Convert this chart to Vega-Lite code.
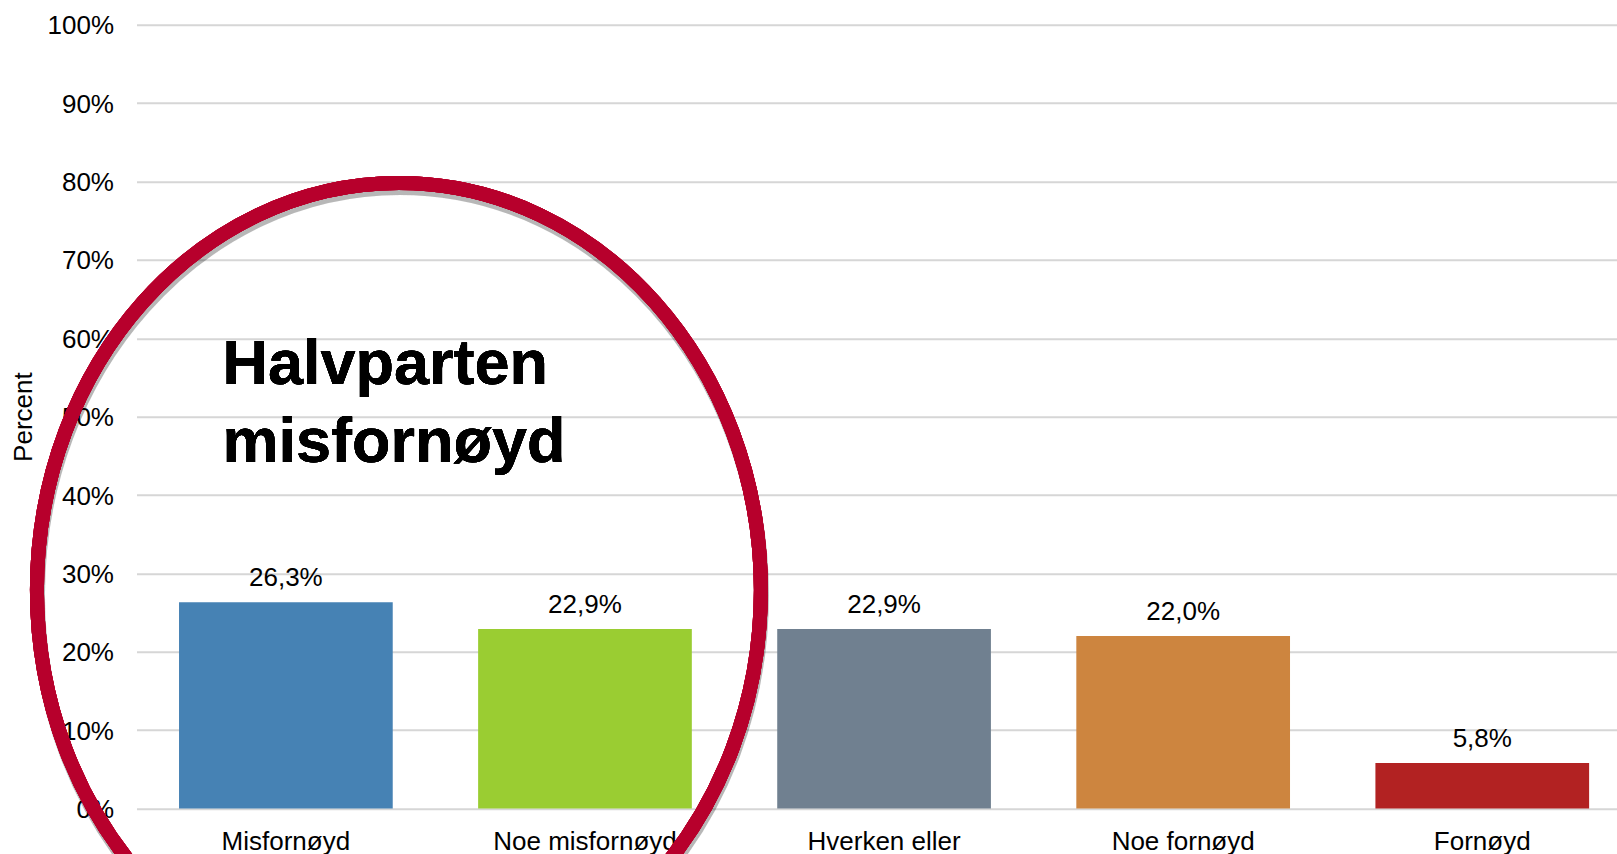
{
  "$schema": "https://vega.github.io/schema/vega-lite/v6.json",
  "width": 1480.5,
  "height": 783.75,
  "autosize": {"type": "none"},
  "padding": {"left": 136.5, "top": 24.75, "right": 0, "bottom": 45.5},
  "background": "white",
  "config": {
    "view": {"stroke": null},
    "font": "Liberation Sans",
    "locale": {"number": {"decimal": ",", "thousands": " ", "grouping": [3], "currency": ["", " kr"]}},
    "axis": {"labelFont": "Liberation Sans", "titleFont": "Liberation Sans", "labelColor": "#000000", "titleColor": "#000000"}
  },
  "data": {
    "values": [
      {"kategori": "Misfornøyd", "andel": 0.263},
      {"kategori": "Noe misfornøyd", "andel": 0.229},
      {"kategori": "Hverken eller", "andel": 0.229},
      {"kategori": "Noe fornøyd", "andel": 0.220},
      {"kategori": "Fornøyd", "andel": 0.058}
    ]
  },
  "resolve": {"scale": {"x": "independent"}, "axis": {"x": "independent"}},
  "layer": [
    {
      "encoding": {
        "x": {
          "field": "kategori",
          "type": "nominal",
          "sort": null,
          "scale": {"paddingInner": 0.2855, "paddingOuter": 0.1177, "align": 0.604, "round": false},
          "axis": {
            "title": null,
            "domain": false,
            "ticks": false,
            "tickSize": 0,
            "labelAngle": 0,
            "labelFontSize": 26,
            "labelPadding": 20,
            "labelLimit": 500,
            "labelOverlap": false,
            "grid": false
          }
        },
        "y": {
          "field": "andel",
          "type": "quantitative",
          "scale": {"domain": [0, 1], "nice": false},
          "axis": {
            "title": "Percent",
            "titleFontSize": 26,
            "titleFontWeight": "normal",
            "titlePadding": 11,
            "format": ".0%",
            "values": [0, 0.1, 0.2, 0.3, 0.4, 0.5, 0.6, 0.7, 0.8, 0.9, 1.0],
            "domain": false,
            "ticks": false,
            "tickSize": 0,
            "labelFontSize": 26,
            "labelPadding": 23,
            "labelOffset": 1,
            "grid": true,
            "gridColor": "#D6D6D6",
            "gridWidth": 2
          }
        }
      },
      "layer": [
        {
          "mark": {"type": "bar"},
          "encoding": {
            "color": {
              "field": "kategori",
              "type": "nominal",
              "scale": {
                "domain": ["Misfornøyd", "Noe misfornøyd", "Hverken eller", "Noe fornøyd", "Fornøyd"],
                "range": ["#4682B4", "#9ACD32", "#708090", "#CD853F", "#B22222"]
              },
              "legend": null
            }
          }
        },
        {
          "mark": {"type": "text", "baseline": "alphabetic", "dy": -16, "fontSize": 26, "color": "#000000", "font": "Liberation Sans"},
          "encoding": {
            "text": {"field": "andel", "type": "quantitative", "format": ".1%"}
          }
        }
      ]
    },
    {
      "layer": [
        {
          "mark": {
            "type": "point",
            "shape": "M 0.8894 0 C 0.8894 0.5523 0.4912 1 0 1 C -0.4912 1 -0.8894 0.5523 -0.8894 0 C -0.8894 -0.5523 -0.4912 -1 0 -1 C 0.4912 -1 0.8894 -0.5523 0.8894 0 Z",
            "size": 662596,
            "filled": false,
            "stroke": "#000000",
            "strokeWidth": 14,
            "opacity": 0.06,
            "xOffset": 1,
            "yOffset": 5
          },
          "encoding": {
            "x": {"datum": 0.378, "type": "quantitative", "scale": {"domain": [-0.4993, 4.4505], "nice": false, "zero": false}, "axis": null},
            "y": {"datum": 0.2788, "type": "quantitative"}
          }
        },
        {
          "mark": {
            "type": "point",
            "shape": "M 0.8894 0 C 0.8894 0.5523 0.4912 1 0 1 C -0.4912 1 -0.8894 0.5523 -0.8894 0 C -0.8894 -0.5523 -0.4912 -1 0 -1 C 0.4912 -1 0.8894 -0.5523 0.8894 0 Z",
            "size": 662596,
            "filled": false,
            "stroke": "#B7002C",
            "strokeWidth": 14,
            "opacity": 1
          },
          "encoding": {
            "x": {"datum": 0.378, "type": "quantitative", "scale": {"domain": [-0.4993, 4.4505], "nice": false, "zero": false}, "axis": null},
            "y": {"datum": 0.2788, "type": "quantitative"}
          }
        },
        {
          "mark": {"type": "text", "text": "Halvparten", "align": "left", "baseline": "alphabetic", "fontSize": 63, "fontWeight": "bold", "color": "#000000", "font": "Liberation Sans"},
          "encoding": {
            "x": {"datum": -0.2118, "type": "quantitative", "scale": {"domain": [-0.4993, 4.4505], "nice": false, "zero": false}, "axis": null},
            "y": {"datum": 0.541, "type": "quantitative"}
          }
        },
        {
          "mark": {"type": "text", "text": "misfornøyd", "align": "left", "baseline": "alphabetic", "fontSize": 63, "fontWeight": "bold", "color": "#000000", "font": "Liberation Sans"},
          "encoding": {
            "x": {"datum": -0.2118, "type": "quantitative", "scale": {"domain": [-0.4993, 4.4505], "nice": false, "zero": false}, "axis": null},
            "y": {"datum": 0.4421, "type": "quantitative"}
          }
        }
      ]
    }
  ]
}
